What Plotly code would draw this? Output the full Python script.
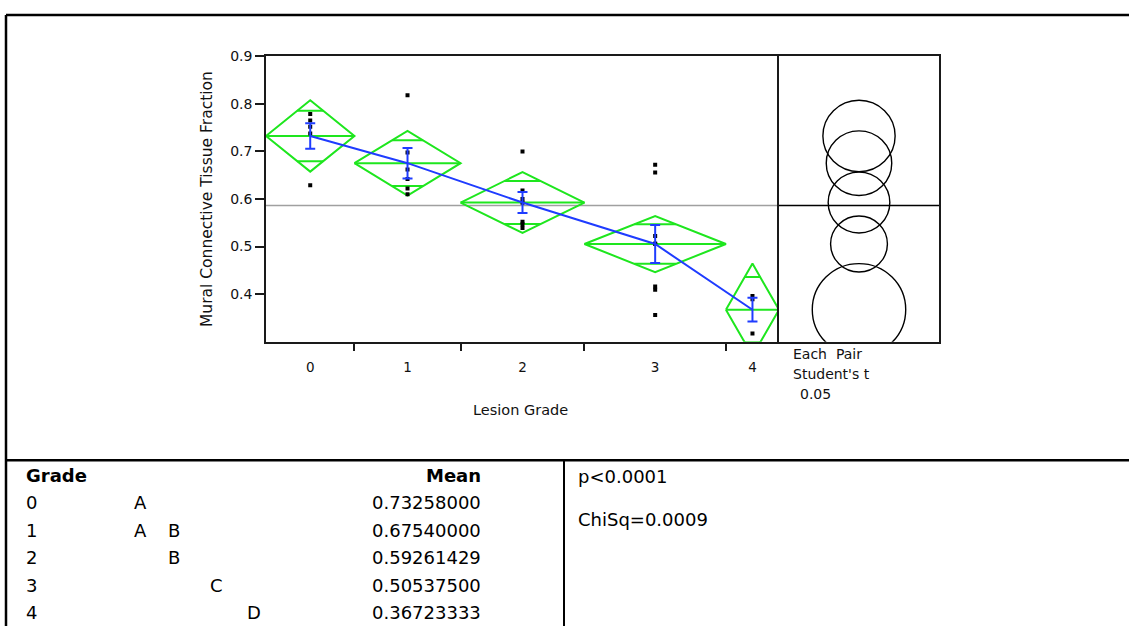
import plotly.graph_objects as go

W, H = 1129, 626

# ---------------- data ----------------
grades = ["0", "1", "2", "3", "4"]
n_per_grade = [5, 6, 7, 8, 3]
means = [0.73258000, 0.67540000, 0.59261429, 0.50537500, 0.36723333]
mean_text = ["0.73258000", "0.67540000", "0.59261429", "0.50537500", "0.36723333"]
ci95_half = [0.075, 0.068, 0.064, 0.059, 0.097]
std_err = [0.027, 0.032, 0.022, 0.040, 0.025]
grand_mean = 0.5865

obs_grade = [0] * 5 + [1] * 6 + [2] * 7 + [3] * 8 + [4] * 3
obs_value = [0.779, 0.765, 0.752, 0.738, 0.629,
             0.818, 0.698, 0.662, 0.642, 0.622, 0.610,
             0.700, 0.618, 0.600, 0.592, 0.552, 0.547, 0.539,
             0.672, 0.656, 0.522, 0.506, 0.506, 0.416, 0.409, 0.356,
             0.396, 0.389, 0.317]

letter_rows = [["A"], ["A", "B"], ["B"], ["C"], ["D"]]

y_ticks = [0.4, 0.5, 0.6, 0.7, 0.8, 0.9]
y_range = [0.3, 0.9]

# ---------------- layout constants (pixels) ----------------
PL, PR, PT, PB = 266, 779, 49, 338      # main plot box
CR = 939                                 # compare-circles panel right edge
FONT = "DejaVu Sans"
GREEN = "#1ee61e"
BLUE = "#1f3cff"


def fx(p):
    return p / W


def fy(p):
    return 1 - p / H


def text(t, x, y, size, xanchor="center", angle=0, color="#111"):
    return dict(text=t, x=fx(x), y=fy(y), xref="paper", yref="paper",
                xanchor=xanchor, yanchor="middle", textangle=angle, showarrow=False,
                font=dict(family=FONT, size=size, color=color))


# group spans on a continuous x axis (widths proportional to n)
edges = [0]
for n in n_per_grade:
    edges.append(edges[-1] + n)
centers = [(edges[i] + edges[i + 1]) / 2 for i in range(len(grades))]

fig = go.Figure()

# grand mean line (main panel)
fig.add_trace(go.Scatter(x=[edges[0], edges[-1]], y=[grand_mean, grand_mean], mode="lines",
                         line=dict(color="#a0a0a0", width=1.5), hoverinfo="skip", showlegend=False))

# means diamonds
dx, dy = [], []
for i in range(len(grades)):
    a, b, c, m, h = edges[i], edges[i + 1], centers[i], means[i], ci95_half[i]
    dx += [a, c, b, c, a, None, a, b, None]
    dy += [m, m + h, m, m - h, m, None, m, m, None]
    k = h / 2 ** 0.5
    half_w = (b - a) / 2 * (1 - k / h)
    for s in (1, -1):
        dx += [c - half_w, c + half_w, None]
        dy += [m + s * k, m + s * k, None]
fig.add_trace(go.Scatter(x=dx, y=dy, mode="lines", line=dict(color=GREEN, width=2),
                         hoverinfo="skip", showlegend=False))

# observations
fig.add_trace(go.Scatter(x=[centers[g] for g in obs_grade], y=obs_value, mode="markers",
                         marker=dict(symbol="square", size=4, color="black"),
                         showlegend=False))

# connected means with standard-error bars
fig.add_trace(go.Scatter(x=centers, y=means, mode="lines",
                         line=dict(color=BLUE, width=2),
                         error_y=dict(type="data", array=std_err, color=BLUE, thickness=2, width=5),
                         showlegend=False))

# compare circles panel: x scale equals y scale in pixels
px_per_unit = (PB - PT) / (y_range[1] - y_range[0])
half_span = (CR - PR) / 2 / px_per_unit
fig.add_trace(go.Scatter(x=[-half_span, half_span], y=[grand_mean, grand_mean], mode="lines",
                         line=dict(color="black", width=1.5), xaxis="x2", yaxis="y2",
                         hoverinfo="skip", showlegend=False))

shapes = []
for m, r in zip(means, ci95_half):
    shapes.append(dict(type="circle", xref="x2", yref="y2", x0=-r, x1=r, y0=m - r, y1=m + r,
                       line=dict(color="black", width=1.4)))

# outer frame lines (report layout)
frame = dict(color="black", width=2.5)
shapes += [
    dict(type="line", xref="paper", yref="paper", x0=fx(6), x1=1, y0=fy(7), y1=fy(7), line=frame),
    dict(type="line", xref="paper", yref="paper", x0=fx(6), x1=fx(6), y0=fy(7), y1=0, line=frame),
    dict(type="line", xref="paper", yref="paper", x0=fx(6), x1=1, y0=fy(458), y1=fy(458), line=frame),
    dict(type="line", xref="paper", yref="paper", x0=fx(564), x1=fx(564), y0=fy(458), y1=0,
         line=dict(color="black", width=2)),
]

ann = []
# axis titles
ann.append(text("Mural Connective Tissue Fraction", 207, (PT + PB) / 2, 15.5, angle=-90))
ann.append(text("Lesion Grade", 520, 407, 14.5))
# compare circles caption
ann.append(text("Each  Pair", 791, 350, 14, xanchor="left"))
ann.append(text("Student's t", 791, 371, 14, xanchor="left"))
ann.append(text("0.05", 798, 391, 14, xanchor="left"))

# connecting-letters table
TF = 18
col_x = {"A": 140, "B": 174, "C": 216, "D": 254}
ann.append(text("<b>Grade</b>", 24, 474, TF, xanchor="left", color="black"))
ann.append(text("<b>Mean</b>", 483, 474, TF, xanchor="right", color="black"))
row_y = [501, 529, 557, 585, 612]
for g, lets, mt, yy in zip(grades, letter_rows, mean_text, row_y):
    ann.append(text(g, 24, yy, TF, xanchor="left", color="black"))
    for L in lets:
        ann.append(text(L, col_x[L], yy, TF, color="black"))
    ann.append(text(mt, 483, yy, TF, xanchor="right", color="black"))

ann.append(text("p<0.0001", 576, 475, TF, xanchor="left", color="black"))
ann.append(text("ChiSq=0.0009", 576, 518, TF, xanchor="left", color="black"))

axis_line = dict(showline=True, linecolor="#1a1a1a", linewidth=1.5,
                 showgrid=False, zeroline=False, fixedrange=True)

fig.update_layout(
    width=W, height=H,
    margin=dict(l=0, r=0, t=0, b=0),
    paper_bgcolor="white", plot_bgcolor="white",
    showlegend=False,
    xaxis=dict(domain=[fx(PL), fx(PR)], range=[edges[0], edges[-1]], mirror=True,
               tickmode="array", tickvals=centers, ticktext=grades, ticks="",
               ticklabelstandoff=12,
               minor=dict(tickmode="array", tickvals=edges[1:-1], ticks="outside",
                          ticklen=8, tickwidth=1.5, tickcolor="#1a1a1a"),
               tickfont=dict(family=FONT, size=13.5, color="#111"), **axis_line),
    yaxis=dict(domain=[fy(PB), fy(PT)], range=y_range, mirror=False,
               tickmode="array", tickvals=y_ticks, ticktext=[f"{v:.1f}" for v in y_ticks],
               ticks="outside", ticklen=9, tickwidth=1.5, tickcolor="#1a1a1a",
               tickfont=dict(family=FONT, size=14, color="#111"), **axis_line),
    xaxis2=dict(domain=[fx(PR), fx(CR)], range=[-half_span, half_span], anchor="y2", mirror=True,
                showticklabels=False, ticks="", **axis_line),
    yaxis2=dict(domain=[fy(PB), fy(PT)], range=y_range, anchor="x2", mirror=True,
                showticklabels=False, ticks="", **axis_line),
    shapes=shapes,
    annotations=ann,
)

fig.write_html("out.html")
